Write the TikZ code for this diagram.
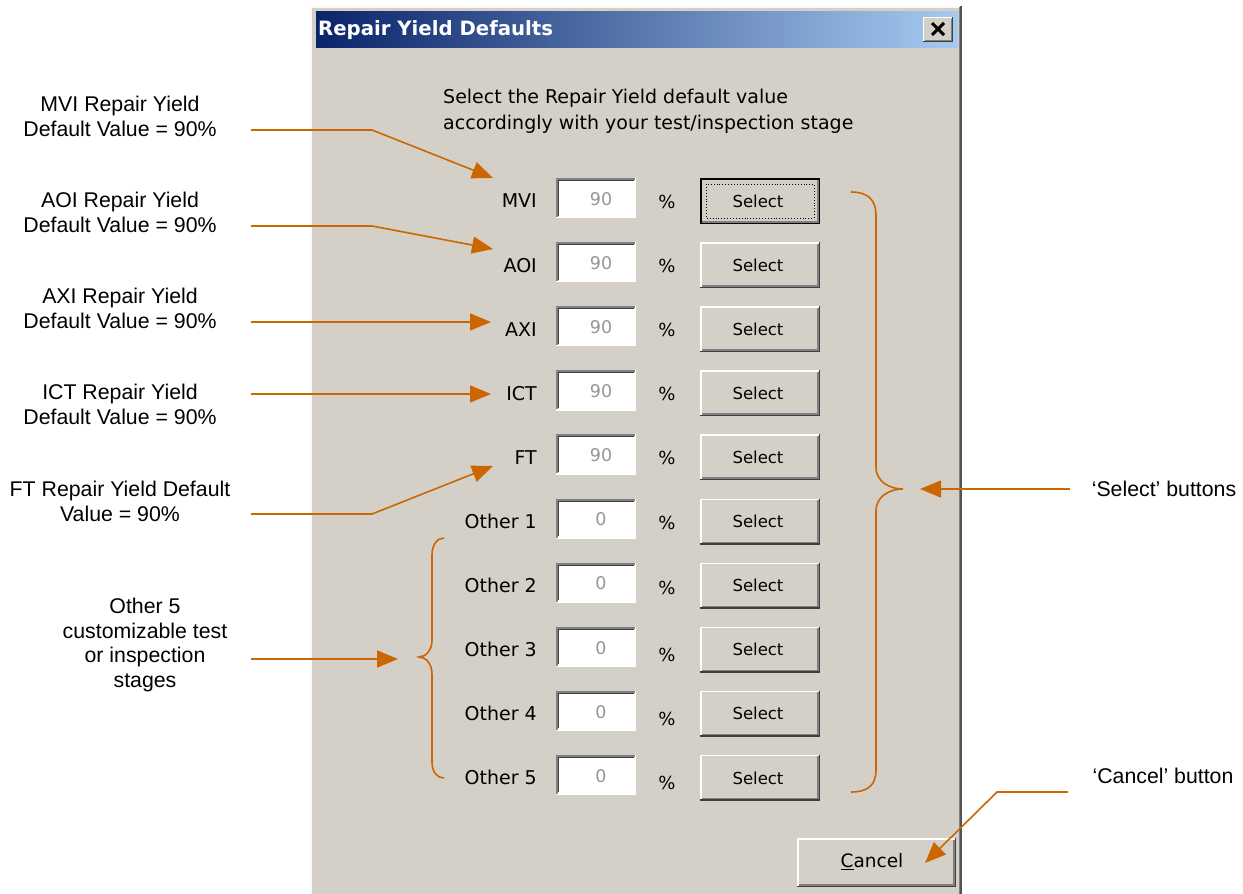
\documentclass[tikz,border=0pt]{standalone}
\usepackage{fontspec}
\setmainfont{Liberation Sans}
\newfontfamily\winfont{DejaVu Sans}
\usetikzlibrary{arrows.meta,calc}
\definecolor{dlg}{RGB}{212,208,200}
\definecolor{ann}{RGB}{204,102,0}
\definecolor{navy}{RGB}{10,36,106}
\definecolor{lblue}{RGB}{166,202,240}
\definecolor{valgray}{RGB}{150,150,150}
\definecolor{shadow}{RGB}{128,128,128}
\definecolor{dkshadow}{RGB}{64,64,64}
\tikzset{
  x=1pt, y=-1pt,
  annot/.style={font=\fontsize{21.3}{24.7}\selectfont, align=center, text=black, inner sep=0pt},
  annarrow/.style={draw=ann, line width=1.6pt, -{Triangle[length=21pt,width=17pt]}, color=ann},
  brace/.style={draw=ann, line width=1.6pt},
  rowlabel/.style={font=\winfont\fontsize{19}{22}\selectfont, anchor=east, inner sep=0pt},
  valtext/.style={font=\winfont\fontsize{17.5}{20}\selectfont, text=valgray, inner sep=0pt},
  pcttext/.style={font=\winfont\fontsize{18}{20}\selectfont, inner sep=0pt},
  btntext/.style={font=\winfont\fontsize{16.5}{20}\selectfont, inner sep=0pt},
}
\begin{document}
\begin{tikzpicture}
\useasboundingbox (0,0) rectangle (1243,894);
\fill[white] (0,0) rectangle (1243,894);
% dialog window
\fill[dlg] (310,6) rectangle (962,894);
\draw[white!85!dlg, line width=1.5pt] (311,894) -- (311,7) -- (961,7);
\draw[shadow, line width=1pt] (959.5,7) -- (959.5,894);
\draw[dkshadow!70!shadow, line width=1.5pt] (961.2,6) -- (961.2,894);
% title bar
\shade[left color=navy, right color=lblue] (316,11) rectangle (958,47);
\node[font=\winfont\bfseries\fontsize{19.7}{22}\selectfont, text=white, anchor=west, inner sep=0pt] (title) at (318,30) {Repair Yield Defaults};
% close button
\fill[dlg] (923,17) rectangle (953,42);
\draw[white, line width=1.2pt] (923.6,41.5) |- (952.5,17.6);
\draw[dkshadow, line width=1.2pt] (923,41.4) -| (952.4,17);
\draw[shadow, line width=1.2pt] (924.5,40.2) -| (951.2,18.5);
\draw[black, line width=3pt] (932,23) -- (944,35) (944,23) -- (932,35);
% instruction
\node[font=\winfont\fontsize{19}{26}\selectfont, anchor=west, align=left, inner sep=0pt] (instr) at (443,111) {Select the Repair Yield default value\\accordingly with your test/inspection stage};
% rows
\foreach \lab/\val/\pc [count=\i from 0] in {MVI/90/1, AOI/90/1, AXI/90/1, ICT/90/1, FT/90/1, Other 1/0/1, Other 2/0/2, Other 3/0/5, Other 4/0/5, Other 5/0/5} {
  \pgfmathsetmacro\c{201+64.1*\i}
  \node[rowlabel] (lbl\i) at (537,\c) {\lab};
  % sunken text box
  \fill[white] (556,\c-23) rectangle (635,\c+16);
  \draw[shadow, line width=2pt] (557,\c+16) |- (635,\c-22);
  \draw[dkshadow, line width=1pt] (558.5,\c+14.5) |- (633.5,\c-20.5);
  \draw[white, line width=1.2pt] (556,\c+16.6) -| (635.6,\c-23);
  \node[valtext] (val\i) at (601,\c-2) {\val};
  \node[pcttext] (pct\i) at (667,\c+\pc) {\%};
  % raised button
  \fill[dlg] (700,\c-23) rectangle (820,\c+23);
  \draw[white, line width=1.5pt] (700.75,\c+22) |- (819,\c-22.25);
  \draw[dkshadow, line width=1.5pt] (700,\c+22.25) -| (819.25,\c-23);
  \draw[shadow, line width=1.5pt] (701.5,\c+20.75) -| (817.75,\c-21.5);
  \node[btntext] (btn\i) at (758,\c) {Select};
}
% default (focused) MVI button
\draw[black, line width=1.5pt] (700.75,178.75) rectangle (819.25,223.25);
\draw[black, line width=0.9pt, dotted] (706,184) rectangle (814,218);
% cancel button
\fill[dlg] (797,838) rectangle (956,887);
\draw[white, line width=1.5pt] (797.75,886) |- (955,838.75);
\draw[dkshadow, line width=1.5pt] (797,886.25) -| (955.25,838);
\draw[shadow, line width=1.5pt] (798.5,884.75) -| (953.75,839.5);
\node[font=\winfont\fontsize{18.5}{20}\selectfont, inner sep=0pt] (cancel) at (872,862) {\underline{C}ancel};
% braces
\draw[brace] (851,192) .. controls (868,192) and (876,200) .. (876,215) -- (876,467)
  .. controls (876,482) and (890,489) .. (903,489)
  .. controls (890,489) and (876,496) .. (876,511) -- (876,770)
  .. controls (876,785) and (868,792) .. (851,792);
\coordinate (rbtip) at (920,489);
\draw[brace] (444,538) .. controls (437,538) and (432,545) .. (432,555) -- (432,640)
  .. controls (432,650) and (426,657) .. (419,657)
  .. controls (426,657) and (432,664) .. (432,674) -- (432,762)
  .. controls (432,772) and (437,778) .. (444,778);
% annotations left
\node[annot] (nMVI) at (120,116.5) {MVI Repair Yield\\Default Value = 90\%};
\node[annot] (nAOI) at (120,212.5) {AOI Repair Yield\\Default Value = 90\%};
\node[annot] (nAXI) at (120,308.5) {AXI Repair Yield\\Default Value = 90\%};
\node[annot] (nICT) at (120,404.5) {ICT Repair Yield\\Default Value = 90\%};
\node[annot] (nFT) at (120,501.5) {FT Repair Yield Default\\Value = 90\%};
\node[annot] (nOther) at (145,645) {Other 5\\customizable test\\or inspection\\stages};
\node[annot] (nSel) at (1164,489) {‘Select’ buttons};
\node[annot] (nCan) at (1163,776) {‘Cancel’ button};
% arrow coordinates
\coordinate (s1) at (251,130); \coordinate (b1) at (372,130); \coordinate (t1) at (493,178);
\coordinate (s2) at (251,226); \coordinate (b2) at (372,226); \coordinate (t2) at (493,249);
\coordinate (s3) at (251,322); \coordinate (t3) at (491,322);
\coordinate (s4) at (251,394); \coordinate (t4) at (491,394);
\coordinate (s5) at (251,514); \coordinate (b5) at (372,514); \coordinate (t5) at (493,466);
\coordinate (s6) at (251,659); \coordinate (t6) at (398,659);
\coordinate (s7) at (1070,489);
\coordinate (s8) at (1068,792); \coordinate (b8) at (997,792); \coordinate (t8) at (925,863);
\draw[annarrow] (s1) -- (b1) -- (t1);
\draw[annarrow] (s2) -- (b2) -- (t2);
\draw[annarrow] (s3) -- (t3);
\draw[annarrow] (s4) -- (t4);
\draw[annarrow] (s5) -- (b5) -- (t5);
\draw[annarrow] (s6) -- (t6);
\draw[annarrow] (s7) -- (rbtip);
\draw[annarrow] (s8) -- (b8) -- (t8);
\end{tikzpicture}
\end{document}
